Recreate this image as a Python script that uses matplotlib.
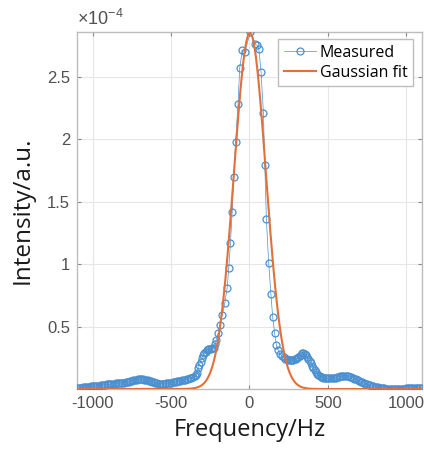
import numpy as np
import matplotlib
matplotlib.use("Agg")
import matplotlib.pyplot as plt

# ---- measured spectrum (intensity in units of 1e-4) ----
# left tail
tail_left_hz = [
    -1100, -1090, -1080, -1070, -1060, -1050, -1040, -1030, -1020, -1010,
    -1000, -990, -980, -970, -960, -950, -940, -930, -920, -910,
    -900, -890, -880, -870, -860, -850, -840, -830, -820, -810,
    -800, -790, -780, -770, -760, -750, -740, -730, -720, -710,
    -700, -690, -680, -670, -660, -650, -640, -630, -620, -610,
    -600, -590, -580, -570, -560, -550, -540, -530, -520, -510,
    -500, -490, -480, -470, -460, -450, -440, -430, -420, -410,
    -400, -390, -380, -370, -360, -350, -340, -333,
]
tail_left_val = [
    0.006, 0.008, 0.009, 0.011, 0.012, 0.014, 0.015, 0.017, 0.018, 0.020,
    0.021, 0.023, 0.024, 0.026, 0.027, 0.029, 0.031, 0.033, 0.034, 0.036,
    0.037, 0.039, 0.040, 0.042, 0.043, 0.045, 0.046, 0.047, 0.048, 0.049,
    0.050, 0.052, 0.054, 0.057, 0.060, 0.064, 0.068, 0.071, 0.074, 0.076,
    0.077, 0.078, 0.077, 0.075, 0.073, 0.069, 0.065, 0.060, 0.056, 0.052,
    0.048, 0.045, 0.042, 0.041, 0.040, 0.041, 0.042, 0.044, 0.046, 0.048,
    0.050, 0.052, 0.055, 0.057, 0.060, 0.062, 0.065, 0.068, 0.071, 0.074,
    0.078, 0.081, 0.085, 0.090, 0.095, 0.101, 0.110, 0.130,
]

# shoulder + central peak
peak_hz = [
    -327, -320, -312, -305, -297, -289, -280, -272, -263, -255,
    -248, -237, -227, -219, -212, -199, -189, -174, -157, -142,
    -132, -121, -110, -100, -88, -73, -62, -46, -30, 6,
    38, 49, 60, 74, 89, 98, 108, 123, 137, 148,
    161, 172, 183, 197, 208,
]
peak_val = [
    0.165, 0.190, 0.220, 0.245, 0.270, 0.285, 0.300, 0.310, 0.320, 0.320,
    0.320, 0.325, 0.330, 0.360, 0.390, 0.450, 0.510, 0.590, 0.690, 0.810,
    0.970, 1.170, 1.420, 1.700, 1.980, 2.280, 2.570, 2.710, 2.700, 2.855,
    2.760, 2.750, 2.720, 2.540, 2.210, 1.790, 1.360, 1.005, 0.760, 0.580,
    0.445, 0.350, 0.310, 0.280, 0.265,
]

# right tail
tail_right_hz = [
    219, 230, 240, 248, 256, 264, 272, 280, 288, 296,
    304, 312, 320, 328, 336, 344, 352, 360, 368, 376,
    384, 392, 400, 408, 416, 424, 432, 440, 448, 456,
    464, 472, 480, 490, 500, 510, 520, 530, 540, 550,
    560, 570, 580, 590, 600, 610, 620, 630, 640, 650,
    660, 670, 680, 690, 700, 710, 720, 730, 740, 750,
    760, 770, 780, 790, 800, 810, 820, 830, 840, 850,
    860, 870, 880, 890, 900, 910, 920, 930, 940, 950,
    960, 970, 980, 990, 1000, 1010, 1020, 1030, 1040, 1050,
    1060, 1070, 1080, 1090, 1100,
]
tail_right_val = [
    0.253, 0.244, 0.237, 0.234, 0.232, 0.231, 0.232, 0.235, 0.238, 0.241,
    0.245, 0.255, 0.265, 0.276, 0.285, 0.287, 0.280, 0.272, 0.260, 0.243,
    0.225, 0.205, 0.185, 0.167, 0.150, 0.134, 0.120, 0.111, 0.105, 0.099,
    0.095, 0.091, 0.088, 0.086, 0.085, 0.085, 0.085, 0.086, 0.088, 0.091,
    0.095, 0.098, 0.100, 0.102, 0.103, 0.104, 0.104, 0.101, 0.098, 0.093,
    0.088, 0.082, 0.076, 0.070, 0.065, 0.059, 0.053, 0.048, 0.043, 0.038,
    0.034, 0.030, 0.026, 0.022, 0.019, 0.016, 0.013, 0.010, 0.008, 0.006,
    0.004, 0.003, 0.002, 0.001, 0.001, 0.000, 0.000, 0.000, 0.000, 0.001,
    0.001, 0.002, 0.002, 0.003, 0.004, 0.004, 0.005, 0.005, 0.006, 0.006,
    0.006, 0.006, 0.006, 0.006, 0.006,
]

# ---- gaussian fit parameters ----
fit_amp = 2.85
fit_center = 3.0
fit_sigma = 102.0

x_ticks = [-1000, -500, 0, 500, 1000]
y_ticks = [0.5, 1, 1.5, 2, 2.5]
y_ticklabels = ["0.5", "1", "1.5", "2", "2.5"]

blue = "#4a90d0"
orange = "#e2703a"
tick_gray = "#505050"
box_gray = "#bdbdbd"

plt.rcParams["mathtext.fontset"] = "custom"
plt.rcParams["mathtext.rm"] = "Liberation Sans"
plt.rcParams["mathtext.it"] = "Liberation Sans"

freq_hz = tail_left_hz + peak_hz + tail_right_hz
intensity = tail_left_val + peak_val + tail_right_val

fig = plt.figure(figsize=(4.24, 4.53), dpi=100)
fig.patch.set_facecolor("white")
ax = fig.add_axes([0.1816, 0.1413, 0.8134, 0.7877])

ax.plot(freq_hz, intensity, "-o", color=blue, lw=0.5, ms=5,
        mfc="none", mew=0.9, label="Measured", zorder=3)

xf = np.linspace(-1100, 1100, 1500)
yf = fit_amp * np.exp(-(xf - fit_center) ** 2 / (2 * fit_sigma ** 2))
ax.plot(xf, yf, color=orange, lw=1.5, label="Gaussian fit", zorder=4)

ax.set_xlim(-1100, 1100)
ax.set_ylim(0, 2.856)
ax.set_xticks(x_ticks)
ax.set_xticklabels([str(v) for v in x_ticks])
ax.set_yticks(y_ticks)
ax.set_yticklabels(y_ticklabels)

ax.grid(True, color="#e6e6e6", lw=0.8)
ax.set_axisbelow(True)
for s in ax.spines.values():
    s.set_color(box_gray)
    s.set_linewidth(1.0)
ax.tick_params(direction="in", length=3, color="#8a8a8a", labelcolor=tick_gray,
               labelsize=12, top=True, right=True, pad=5)
for lab in ax.get_xticklabels() + ax.get_yticklabels():
    lab.set_family("Liberation Sans")

ax.text(0.0, 1.008, r"$\times10^{-4}$", transform=ax.transAxes,
        fontsize=13, color=tick_gray, ha="left", va="bottom")

ax.set_xlabel("Frequency/Hz", fontsize=17, family="Open Sans", color="#1a1a1a", labelpad=5)
ax.set_ylabel("Intensity/a.u.", fontsize=17.5, family="Open Sans", color="#1a1a1a", labelpad=9)

leg = ax.legend(loc="upper right", bbox_to_anchor=(0.974, 0.980), numpoints=1,
                fancybox=False, framealpha=1, edgecolor=box_gray,
                prop={"family": "Open Sans", "size": 11.5},
                handlelength=2.0, handletextpad=0.25, borderpad=0.35,
                labelspacing=0.25, borderaxespad=0)
leg.get_frame().set_linewidth(1.0)

plt.savefig("out.png", dpi=100, facecolor="white")
